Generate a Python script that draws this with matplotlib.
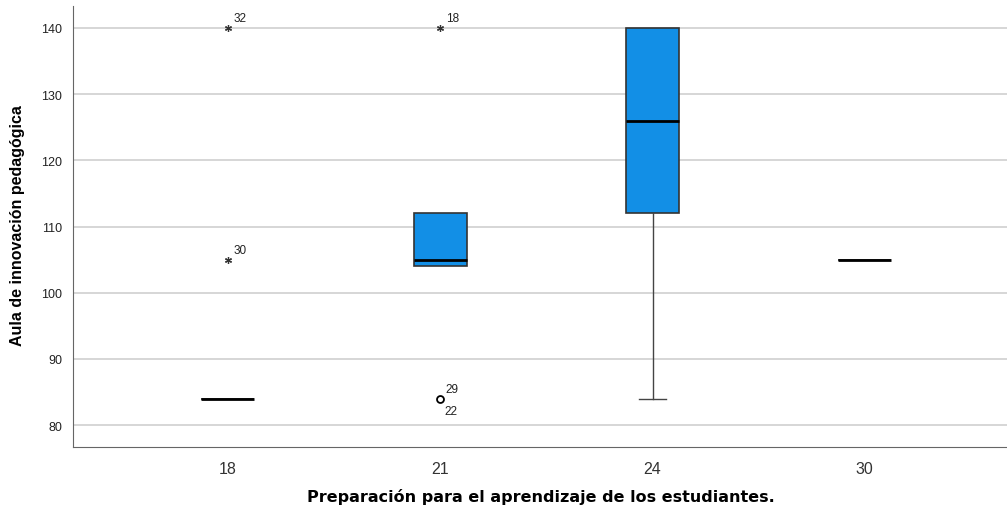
import matplotlib
matplotlib.use("Agg")
import matplotlib.pyplot as plt

plt.rcParams["font.family"] = ["Liberation Sans", "DejaVu Sans"]

# Categories and box statistics
categories = ["18", "21", "24", "30"]
q1 = [84, 104, 112, 105]
medians = [84, 105, 126, 105]
q3 = [84, 112, 140, 105]
whisker_lo = [84, 104, 84, 105]
whisker_hi = [84, 112, 140, 105]

# Outliers: (category index, value, marker, case labels)
outlier_cat = [0, 0, 1, 1]
outlier_val = [140, 105, 140, 84]
outlier_marker = ["*", "*", "*", "o"]
outlier_labels = [["32"], ["30"], ["18"], ["29", "22"]]

box_color = "#128FE6"

fig = plt.figure(figsize=(10.07, 5.10), dpi=100)
ax = fig.add_axes([73 / 1007, 1 - 448 / 510, (1007 - 73) / 1007, (448 - 7) / 510])

stats = []
for i in range(len(categories)):
    stats.append({"med": medians[i], "q1": q1[i], "q3": q3[i],
                  "whislo": whisker_lo[i], "whishi": whisker_hi[i], "fliers": []})

arts = ax.bxp(stats, positions=range(len(categories)), widths=0.25, patch_artist=True,
              showfliers=False, showcaps=True,
              boxprops=dict(facecolor=box_color, edgecolor="#333333", linewidth=1.2),
              medianprops=dict(color="black", linewidth=2),
              whiskerprops=dict(color="#444444", linewidth=1),
              capprops=dict(color="#444444", linewidth=1),
              manage_ticks=False, zorder=3)

# caps sitting on a box edge are not drawn
for i in range(len(categories)):
    if whisker_lo[i] == q1[i]:
        arts["caps"][2 * i].set_visible(False)
    if whisker_hi[i] == q3[i]:
        arts["caps"][2 * i + 1].set_visible(False)

asterisk = (6, 2, 0)
for c, v, m, labs in zip(outlier_cat, outlier_val, outlier_marker, outlier_labels):
    if m == "o":
        ax.plot(c, v, marker="o", markersize=5, markerfacecolor="white",
                markeredgecolor="black", markeredgewidth=1.3, zorder=4)
    else:
        ax.plot(c, v, marker=asterisk, markersize=5, color="#333333",
                markeredgewidth=0.9, zorder=4)
    ax.annotate(labs[0], (c, v), xytext=(4, 5), textcoords="offset points",
                fontsize=8.5, color="#222222")
    if len(labs) > 1:
        ax.annotate(labs[1], (c, v), xytext=(3, -11), textcoords="offset points",
                    fontsize=8.5, color="#222222")

ax.set_xlim(-0.73, 3.67)
ax.set_ylim(76.7, 143.3)
ax.set_xticks(range(len(categories)))
ax.set_xticklabels(categories, fontsize=11.5, color="#333333")
ax.set_yticks([80, 90, 100, 110, 120, 130, 140])
ax.tick_params(axis="y", labelsize=9, length=0, pad=8, colors="#222222")
ax.tick_params(axis="x", length=0, pad=10)
ax.grid(axis="y", color="#d0d0d0", linewidth=1.2, zorder=0)
ax.set_axisbelow(True)
for s in ["top", "right"]:
    ax.spines[s].set_visible(False)
ax.spines["left"].set_color("#666666")
ax.spines["bottom"].set_color("#666666")

fig.text(541 / 1007, 1 - 497 / 510, "Preparación para el aprendizaje de los estudiantes.",
         ha="center", va="center", fontsize=11.5, fontweight="bold",
         family=["DejaVu Sans"])
fig.text(18 / 1007, 1 - 226 / 510, "Aula de innovación pedagógica",
         ha="center", va="center", rotation=90, fontsize=11.5, fontweight="bold")

fig.savefig("out.png", dpi=100)
